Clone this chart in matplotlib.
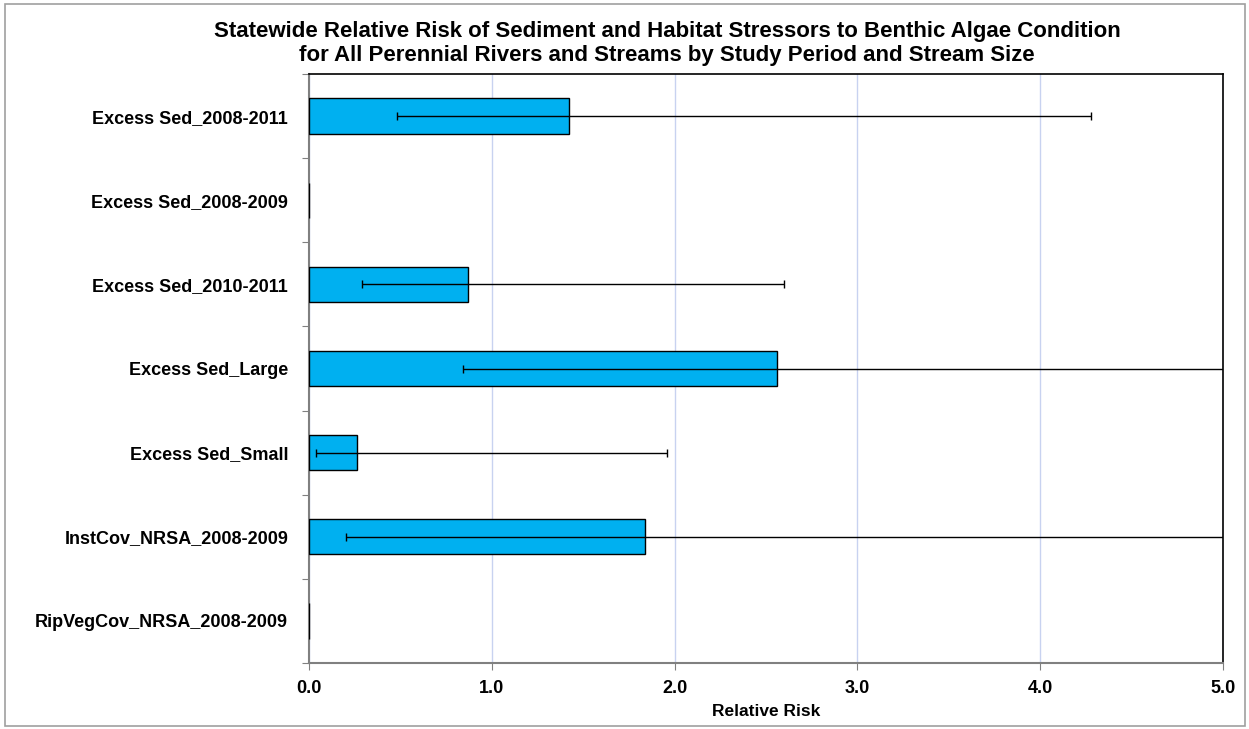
import matplotlib
matplotlib.use("Agg")
import matplotlib.pyplot as plt
from matplotlib.patches import Rectangle
import numpy as np

categories = [
    "Excess Sed_2008-2011",
    "Excess Sed_2008-2009",
    "Excess Sed_2010-2011",
    "Excess Sed_Large",
    "Excess Sed_Small",
    "InstCov_NRSA_2008-2009",
    "RipVegCov_NRSA_2008-2009",
]
relative_risk = [1.42, 0.0, 0.87, 2.56, 0.26, 1.84, 0.0]
ci_lower = [0.48, np.nan, 0.29, 0.84, 0.04, 0.20, np.nan]
ci_upper = [4.28, np.nan, 2.60, 6.5, 1.96, 6.0, np.nan]
x_ticks = [0.0, 1.0, 2.0, 3.0, 4.0, 5.0]

plt.rcParams['font.family'] = ['Liberation Sans', 'DejaVu Sans']

fig = plt.figure(figsize=(12.49, 7.29), dpi=100)
ax = fig.add_axes([309/1249, 1-663/729, (1223-309)/1249, (663-74)/729])

n = len(categories)
y = np.arange(n) + 0.5
ax.barh(y, relative_risk, height=0.42, color='#00B0F0', edgecolor='black',
        linewidth=1.0, zorder=3)

rr = np.array(relative_risk)
lo = np.array(ci_lower)
hi = np.array(ci_upper)
mask = ~np.isnan(lo)
ax.errorbar(rr[mask], y[mask], xerr=[rr[mask]-lo[mask], hi[mask]-rr[mask]],
            fmt='none', ecolor='black', elinewidth=1.0, capsize=3, capthick=1.0,
            zorder=4)

ax.set_xlim(0, 5)
ax.set_ylim(n, 0)
ax.set_xticks(x_ticks)
ax.set_xticklabels([f"{v:.1f}" for v in x_ticks], fontsize=13, fontweight='bold')
ax.set_yticks(np.arange(n+1))
ax.set_yticklabels([])
ax.set_yticks(y, minor=True)
ax.set_yticklabels(categories, minor=True, fontsize=13, fontweight='bold')
ax.tick_params(axis='y', which='minor', length=0, pad=15)
ax.tick_params(axis='y', which='major', length=5, color='#808080', direction='out')
ax.tick_params(axis='x', length=5, color='#808080', direction='out', pad=7)

ax.xaxis.grid(True, color='#c8d2f0', linewidth=1.0, zorder=0)
ax.set_axisbelow(True)

for s in ['left', 'bottom']:
    ax.spines[s].set_color('#808080')
    ax.spines[s].set_linewidth(1.5)
for s in ['top', 'right']:
    ax.spines[s].set_color('black')
    ax.spines[s].set_linewidth(1.2)

ax.set_xlabel("Relative Risk", fontsize=12.5, fontweight='bold', labelpad=5)

fig.text(667/1249, 1-32/729,
         "Statewide Relative Risk of Sediment and Habitat Stressors to Benthic Algae Condition",
         ha='center', va='center', fontsize=16, fontweight='bold')
fig.text(667/1249, 1-55/729,
         "for All Perennial Rivers and Streams by Study Period and Stream Size",
         ha='center', va='center', fontsize=16, fontweight='bold')

border = Rectangle((5/1249, 3/729), (1245-5)/1249, (725-3)/729,
                   transform=fig.transFigure, fill=False,
                   edgecolor='#a0a0a0', linewidth=1.2)
fig.patches.append(border)

fig.savefig("out.png", dpi=100)
